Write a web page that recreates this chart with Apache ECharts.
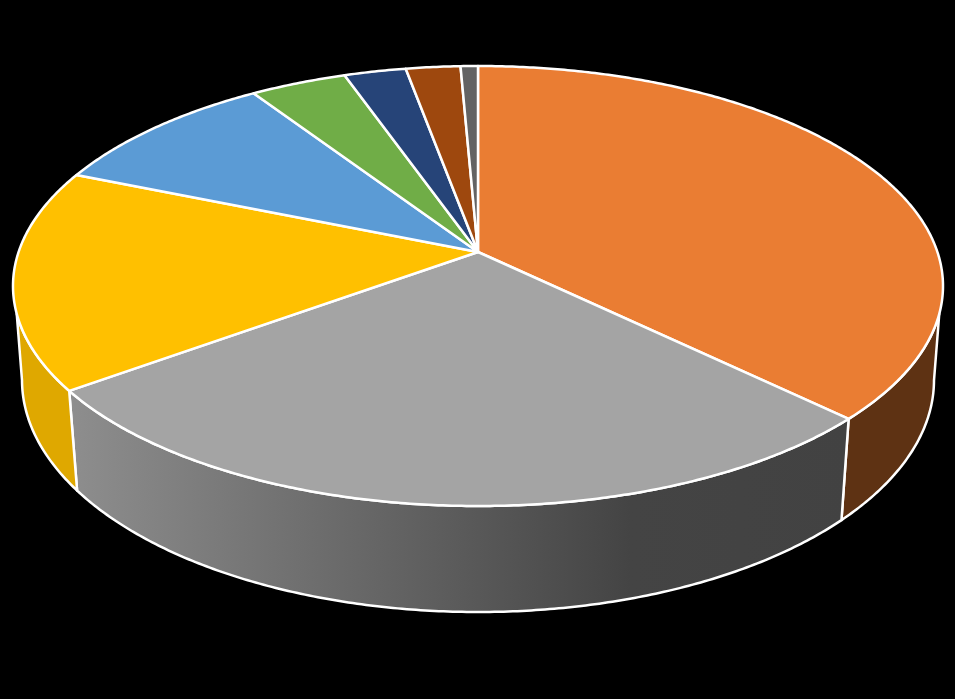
<!DOCTYPE html>
<html>
<head>
<meta charset="utf-8">
<title>pie</title>
<script src="https://cdn.jsdelivr.net/npm/echarts@6/dist/echarts.min.js"></script>
<style>
  html, body { margin: 0; padding: 0; background: #000; }
  #main { width: 955px; height: 699px; }
</style>
</head>
<body>
<div id="main"></div>
<script>
// percent share of each slice, clockwise from 12 o'clock
var sliceValues = [37.2, 27.8, 16.2, 9.5, 3.9, 2.5, 2.2, 0.7];
var sliceColors = ['#EA7D33', '#A4A4A4', '#FFC000', '#5B9BD5', '#70AD47', '#264478', '#9E480E', '#636363'];
var wallColors = ['#5E3213', null, '#DFA800', '#3A6488', '#476E2D', '#18294A', '#642D09', '#3E3E3E'];

// the tilted disc: top rim, bottom rim, and how far the apex sits behind the rim centre
var topRim = { cx: 478, cy: 286, rx: 465, ry: 220 };
var lowRim = { cx: 478, cy: 380, rx: 456, ry: 232 };
var tilt = 0.1545;

var total = sliceValues.reduce(function (a, b) { return a + b; }, 0);

function startAngle(i) {
  var sum = 0;
  for (var k = 0; k < i; k++) sum += sliceValues[k];
  return sum / total * 360;
}

// disc point at clockwise angle deg and radius r (0..1) -> screen, with perspective
function project(rim, deg, r) {
  var a = deg * Math.PI / 180;
  var x = Math.sin(a) * r;
  var y = -Math.cos(a) * r;
  var d = 1 - tilt * y;
  return [rim.cx + rim.rx * x * Math.sqrt(1 - tilt * tilt) / d, rim.cy + rim.ry * (y - tilt) / d];
}

function arc(rim, from, to) {
  var pts = [];
  var n = Math.max(2, Math.ceil(Math.abs(to - from) * 2));
  for (var i = 0; i <= n; i++) pts.push(project(rim, from + (to - from) * i / n, 1));
  return pts;
}

var data = sliceValues.map(function (v, i) { return { name: 'slice' + i, value: v }; });

var option = {
  backgroundColor: '#000',
  animation: false,
  series: [
    {
      // outer wall, only the part that faces the viewer
      type: 'custom',
      coordinateSystem: 'none',
      silent: true,
      data: data,
      renderItem: function (params) {
        var i = params.dataIndex;
        var a0 = startAngle(i), a1 = startAngle(i + 1);
        var topFrom = Math.max(a0, 106), topTo = Math.min(a1, 254);
        var lowFrom = Math.max(a0, 99), lowTo = Math.min(a1, 261);
        if (topFrom >= topTo) return null;
        var fill = wallColors[i];
        if (!fill) {
          fill = new echarts.graphic.LinearGradient(0, 0, 1, 0, [
            { offset: 0, color: '#8E8E8E' },
            { offset: 0.72, color: '#444444' },
            { offset: 1, color: '#424242' }
          ]);
        }
        return {
          type: 'polygon',
          shape: { points: arc(topRim, topFrom, topTo).concat(arc(lowRim, lowTo, lowFrom)) },
          style: { fill: fill, stroke: '#fff', lineWidth: 2.5, lineJoin: 'round' }
        };
      }
    },
    {
      // top face
      type: 'custom',
      coordinateSystem: 'none',
      silent: true,
      data: data,
      renderItem: function (params) {
        var i = params.dataIndex;
        var pts = [project(topRim, 0, 0)].concat(arc(topRim, startAngle(i), startAngle(i + 1)));
        return {
          type: 'polygon',
          shape: { points: pts },
          style: { fill: sliceColors[i], stroke: '#fff', lineWidth: 2.5, lineJoin: 'round' }
        };
      }
    }
  ]
};

var chart = echarts.init(document.getElementById('main'));
chart.setOption(option);
</script>
</body>
</html>
